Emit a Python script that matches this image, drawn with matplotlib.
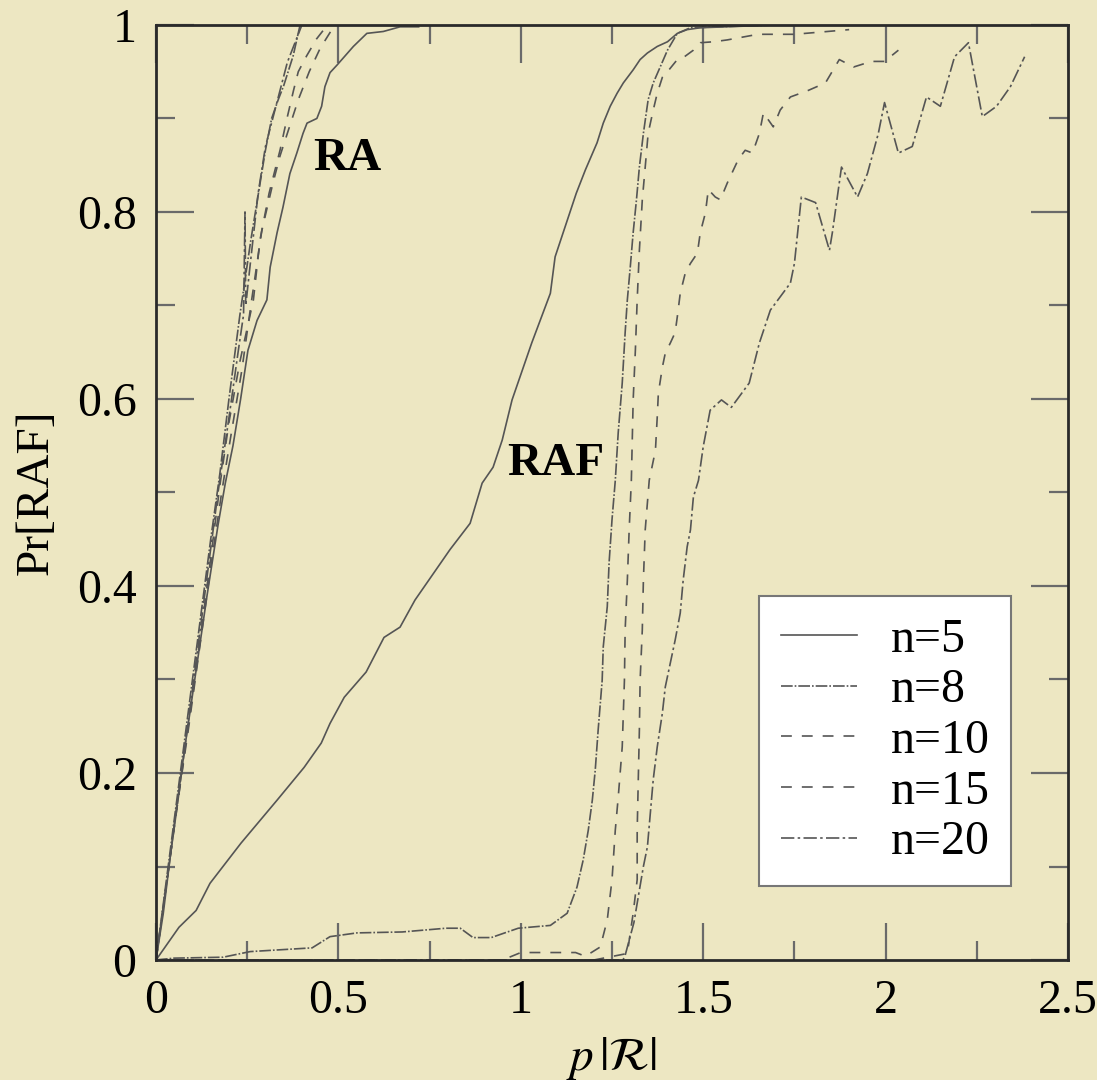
import numpy as np
import matplotlib
matplotlib.use("Agg")
import matplotlib.pyplot as plt
from matplotlib.ticker import MultipleLocator, FormatStrFormatter

plt.rcParams["font.family"] = ["Liberation Serif", "DejaVu Serif"]
plt.rcParams["mathtext.fontset"] = "stix"

BG = "#ede7c2"
LINE = "#555555"

# ── RA curves (left bundle) ──
ra_x_n5 = [0, 0.02, 0.05, 0.08, 0.11, 0.14, 0.17, 0.19, 0.211, 0.232, 0.252, 0.277,
           0.304, 0.313, 0.332, 0.348, 0.367, 0.386, 0.403, 0.414, 0.441, 0.454,
           0.463, 0.477, 0.496, 0.541, 0.578, 0.623, 0.669, 0.72]
ra_y_n5 = [0, 0.05, 0.145, 0.23, 0.31, 0.39, 0.465, 0.51, 0.55, 0.6, 0.652, 0.684,
           0.706, 0.741, 0.778, 0.805, 0.841, 0.863, 0.884, 0.895, 0.9, 0.913,
           0.934, 0.949, 0.957, 0.977, 0.991, 0.993, 0.998, 0.998]

ra_x_n8 = [0, 0.03, 0.06, 0.09, 0.12, 0.15, 0.175, 0.2, 0.23, 0.26, 0.285, 0.3,
           0.317, 0.335, 0.35, 0.376, 0.395]
ra_y_n8 = [0, 0.09, 0.18, 0.27, 0.36, 0.45, 0.52, 0.6, 0.69, 0.77, 0.83, 0.866,
           0.9, 0.92, 0.935, 0.967, 1.0]

ra_x_n10 = [0, 0.03, 0.06, 0.09, 0.12, 0.15, 0.176, 0.2, 0.23, 0.267, 0.285, 0.31,
            0.34, 0.359, 0.377, 0.39, 0.413, 0.44, 0.47]
ra_y_n10 = [0, 0.085, 0.17, 0.255, 0.34, 0.43, 0.51, 0.575, 0.64, 0.706, 0.77, 0.82,
            0.866, 0.9, 0.93, 0.95, 0.967, 0.985, 1.0]

ra_x_n15 = [0, 0.03, 0.06, 0.09, 0.12, 0.15, 0.18, 0.205, 0.235, 0.26, 0.29, 0.32,
            0.34, 0.365, 0.39, 0.42, 0.45, 0.49]
ra_y_n15 = [0, 0.085, 0.17, 0.25, 0.335, 0.42, 0.5, 0.56, 0.63, 0.7, 0.78, 0.83,
            0.86, 0.89, 0.92, 0.95, 0.975, 1.0]

ra_x_n20 = [0, 0.03, 0.06, 0.09, 0.12, 0.15, 0.17, 0.2, 0.225, 0.24, 0.244, 0.246,
            0.26, 0.28, 0.3, 0.32, 0.34, 0.36, 0.38, 0.4]
ra_y_n20 = [0, 0.085, 0.17, 0.26, 0.35, 0.44, 0.5, 0.58, 0.65, 0.69, 0.8, 0.7,
            0.75, 0.82, 0.87, 0.9, 0.93, 0.96, 0.98, 1.0]

# ── RAF curves ──
raf_x_n5 = [0, 0.063, 0.11, 0.148, 0.233, 0.332, 0.406, 0.453, 0.477, 0.516, 0.576,
            0.625, 0.669, 0.71, 0.806, 0.861, 0.894, 0.924, 0.949, 0.976, 1.03,
            1.081, 1.094, 1.152, 1.177, 1.209, 1.226, 1.245, 1.264, 1.281, 1.308,
            1.327, 1.347, 1.374, 1.402, 1.429, 1.456, 1.492, 1.7, 1.97]
raf_y_n5 = [0, 0.035, 0.053, 0.082, 0.125, 0.171, 0.206, 0.232, 0.253, 0.281, 0.308,
            0.345, 0.356, 0.385, 0.439, 0.467, 0.51, 0.527, 0.556, 0.599, 0.66,
            0.713, 0.752, 0.82, 0.845, 0.874, 0.895, 0.913, 0.927, 0.938, 0.952,
            0.963, 0.97, 0.977, 0.982, 0.991, 0.995, 0.997, 1.0, 1.0]

raf_x_n8 = [0, 0.049, 0.184, 0.258, 0.428, 0.477, 0.551, 0.675, 0.795, 0.834, 0.869,
            0.919, 0.993, 1.081, 1.127, 1.154, 1.171, 1.185, 1.196, 1.204, 1.212,
            1.223, 1.226, 1.237, 1.242, 1.25, 1.259, 1.267, 1.278, 1.286, 1.292,
            1.3, 1.308, 1.317, 1.325, 1.336, 1.349, 1.363, 1.382, 1.402, 1.429,
            1.465, 1.7]
raf_y_n8 = [0, 0.002, 0.003, 0.009, 0.013, 0.025, 0.029, 0.03, 0.034, 0.034, 0.024,
            0.024, 0.034, 0.037, 0.05, 0.078, 0.107, 0.139, 0.171, 0.203, 0.246,
            0.299, 0.335, 0.378, 0.425, 0.471, 0.513, 0.564, 0.617, 0.671, 0.706,
            0.741, 0.778, 0.813, 0.848, 0.884, 0.92, 0.938, 0.955, 0.973, 0.991,
            0.997, 1.0]

raf_x_n10 = [0, 0.95, 1.0, 1.15, 1.177, 1.218, 1.237, 1.25, 1.259, 1.267, 1.278,
             1.284, 1.286, 1.292, 1.297, 1.303, 1.308, 1.314, 1.319, 1.325, 1.333,
             1.341, 1.349, 1.363, 1.374, 1.388, 1.402, 1.429, 1.445, 1.473, 1.492,
             1.528, 1.566, 1.65, 1.75, 1.9]
raf_y_n10 = [0, 0, 0.008, 0.008, 0.004, 0.014, 0.043, 0.086, 0.139, 0.174, 0.228,
             0.299, 0.353, 0.406, 0.46, 0.513, 0.599, 0.652, 0.706, 0.759, 0.813,
             0.848, 0.884, 0.909, 0.927, 0.944, 0.95, 0.963, 0.965, 0.973, 0.981,
             0.982, 0.984, 0.99, 0.99, 0.995]

raf_x_n15 = [0, 1.2, 1.292, 1.3, 1.308, 1.319, 1.319, 1.322, 1.325, 1.327, 1.333,
             1.336, 1.341, 1.352, 1.369, 1.374, 1.377, 1.388, 1.396, 1.41, 1.423,
             1.429, 1.437, 1.451, 1.465, 1.484, 1.492, 1.506, 1.514, 1.533, 1.547,
             1.566, 1.596, 1.615, 1.635, 1.654, 1.665, 1.692, 1.711, 1.739, 1.788,
             1.835, 1.873, 1.912, 1.961, 1.997, 2.035]
raf_y_n15 = [0, 0, 0.007, 0.029, 0.05, 0.086, 0.139, 0.193, 0.246, 0.299, 0.353,
             0.406, 0.46, 0.513, 0.545, 0.581, 0.606, 0.634, 0.649, 0.66, 0.671,
             0.688, 0.713, 0.735, 0.745, 0.756, 0.778, 0.799, 0.824, 0.816, 0.813,
             0.831, 0.856, 0.866, 0.863, 0.884, 0.906, 0.891, 0.909, 0.923, 0.93,
             0.938, 0.963, 0.955, 0.961, 0.961, 0.973]

raf_x_n20 = [0, 1.28, 1.286, 1.31, 1.336, 1.347, 1.355, 1.363, 1.374, 1.388, 1.396,
             1.41, 1.423, 1.437, 1.445, 1.456, 1.465, 1.473, 1.487, 1.5, 1.519,
             1.55, 1.577, 1.626, 1.654, 1.684, 1.739, 1.75, 1.769, 1.808, 1.846,
             1.854, 1.879, 1.923, 1.95, 1.98, 1.997, 2.035, 2.073, 2.112, 2.15,
             2.189, 2.227, 2.265, 2.304, 2.342, 2.381]
raf_y_n20 = [0, 0, 0.005, 0.04, 0.1, 0.121, 0.157, 0.193, 0.228, 0.264, 0.292,
             0.318, 0.342, 0.371, 0.406, 0.442, 0.46, 0.495, 0.513, 0.549, 0.588,
             0.599, 0.591, 0.617, 0.66, 0.695, 0.724, 0.745, 0.816, 0.81, 0.759,
             0.778, 0.848, 0.816, 0.841, 0.884, 0.917, 0.863, 0.87, 0.923, 0.913,
             0.966, 0.981, 0.902, 0.913, 0.934, 0.966]

labels = ["n=5", "n=8", "n=10", "n=15", "n=20"]
styles = ["-", (0, (7, 1.2, 1, 1.2)), (0, (6.5, 6)), (0, (6.5, 6)),
          (0, (8, 2, 1.5, 2))]

ra_curves = [(ra_x_n5, ra_y_n5), (ra_x_n8, ra_y_n8), (ra_x_n10, ra_y_n10),
             (ra_x_n15, ra_y_n15), (ra_x_n20, ra_y_n20)]
raf_curves = [(raf_x_n5, raf_y_n5), (raf_x_n8, raf_y_n8), (raf_x_n10, raf_y_n10),
              (raf_x_n15, raf_y_n15), (raf_x_n20, raf_y_n20)]

fig = plt.figure(figsize=(10.97, 10.8), dpi=100, facecolor=BG)
ax = fig.add_axes([0.1422, 0.1111, 0.8314, 0.8658], facecolor=BG)

for lab, ls, (rx, ry), (fx, fy) in zip(labels, styles, ra_curves, raf_curves):
    ax.plot(rx, ry, color=LINE, lw=1.2, linestyle=ls, label=lab)
    ax.plot(fx, fy, color=LINE, lw=1.2, linestyle=ls)

ax.set_xlim(0, 2.5)
ax.set_ylim(0, 1)
ax.xaxis.set_major_locator(MultipleLocator(0.5))
ax.xaxis.set_minor_locator(MultipleLocator(0.25))
ax.yaxis.set_major_locator(MultipleLocator(0.2))
ax.yaxis.set_minor_locator(MultipleLocator(0.1))
ax.xaxis.set_major_formatter(FormatStrFormatter("%g"))
ax.yaxis.set_major_formatter(FormatStrFormatter("%g"))

ax.tick_params(which="both", direction="in", top=True, right=True,
               color="#6a6a6a", labelsize=34.5, pad=14)
ax.tick_params(which="major", length=27, width=1.6)
ax.tick_params(which="minor", length=14, width=1.6)
for sp in ax.spines.values():
    sp.set_color("#2a2a2a")
    sp.set_linewidth(2.0)

ax.set_ylabel("Pr[RAF]", fontsize=34, labelpad=14)
ax.set_xlabel(r"$p\,|\mathcal{R}|$", fontsize=34, labelpad=8)

ax.text(0.431, 0.845, "RA", fontsize=34, fontweight="bold", ha="left", va="baseline")
ax.text(0.963, 0.519, "RAF", fontsize=34, fontweight="bold", ha="left", va="baseline")

leg = ax.legend(loc="upper left", bbox_to_anchor=(759 / 1097, 1 - 596 / 1080),
                bbox_transform=fig.transFigure, fontsize=34.5, frameon=True,
                fancybox=False, framealpha=1, borderpad=0.45, handlelength=1.6,
                handletextpad=0.7, labelspacing=0.14, borderaxespad=0)
leg.get_frame().set_facecolor("white")
leg.get_frame().set_edgecolor("#777777")
leg.get_frame().set_linewidth(1.5)

fig.savefig("out.png", dpi=100, facecolor=BG)
